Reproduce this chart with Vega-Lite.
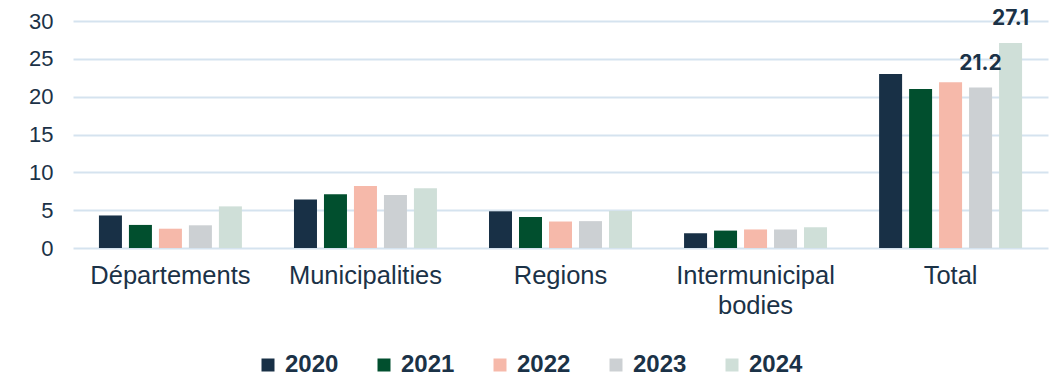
{
  "$schema": "https://vega.github.io/schema/vega-lite/v6.json",
  "autosize": {"type": "none"},
  "padding": {"left": 73, "top": 21, "right": 13, "bottom": 129},
  "width": 975,
  "height": 227,
  "background": "white",
  "config": {
    "view": {"stroke": null},
    "font": "Liberation Sans"
  },
  "data": {
    "values": [
      {"category": "Départements", "year": "2020", "value": 4.3},
      {"category": "Départements", "year": "2021", "value": 3.05},
      {"category": "Départements", "year": "2022", "value": 2.55},
      {"category": "Départements", "year": "2023", "value": 3.0},
      {"category": "Départements", "year": "2024", "value": 5.5},
      {"category": "Municipalities", "year": "2020", "value": 6.4},
      {"category": "Municipalities", "year": "2021", "value": 7.1},
      {"category": "Municipalities", "year": "2022", "value": 8.2},
      {"category": "Municipalities", "year": "2023", "value": 7.0},
      {"category": "Municipalities", "year": "2024", "value": 7.9},
      {"category": "Regions", "year": "2020", "value": 4.85},
      {"category": "Regions", "year": "2021", "value": 4.1},
      {"category": "Regions", "year": "2022", "value": 3.5},
      {"category": "Regions", "year": "2023", "value": 3.55},
      {"category": "Regions", "year": "2024", "value": 4.9},
      {"category": "Intermunicipal bodies", "year": "2020", "value": 1.95},
      {"category": "Intermunicipal bodies", "year": "2021", "value": 2.3},
      {"category": "Intermunicipal bodies", "year": "2022", "value": 2.45},
      {"category": "Intermunicipal bodies", "year": "2023", "value": 2.45},
      {"category": "Intermunicipal bodies", "year": "2024", "value": 2.75},
      {"category": "Total", "year": "2020", "value": 23.0},
      {"category": "Total", "year": "2021", "value": 21.0},
      {"category": "Total", "year": "2022", "value": 21.9},
      {"category": "Total", "year": "2023", "value": 21.2, "label": "21.2"},
      {"category": "Total", "year": "2024", "value": 27.1, "label": "27.1"}
    ]
  },
  "encoding": {
    "x": {
      "field": "category",
      "type": "nominal",
      "sort": null,
      "scale": {"paddingInner": 0.267, "paddingOuter": 0.133},
      "axis": {
        "title": null,
        "domain": false,
        "ticks": false,
        "labelAngle": 0,
        "labelFontSize": 25.5,
        "labelColor": "#1b3247",
        "labelPadding": 15,
        "labelLineHeight": 30,
        "labelBaseline": "top",
        "labelExpr": "datum.label == 'Intermunicipal bodies' ? ['Intermunicipal', 'bodies'] : datum.label"
      }
    },
    "xOffset": {
      "field": "year",
      "type": "nominal",
      "scale": {"paddingInner": 0.233, "paddingOuter": 0}
    },
    "y": {
      "field": "value",
      "type": "quantitative",
      "scale": {"domain": [0, 30], "nice": false},
      "axis": {
        "title": null,
        "values": [0, 5, 10, 15, 20, 25, 30],
        "domain": false,
        "ticks": false,
        "labelFontSize": 22,
        "labelColor": "#1b3247",
        "labelPadding": 20,
        "gridColor": "#d5e3ef",
        "gridWidth": 2
      }
    }
  },
  "layer": [
    {
      "mark": {"type": "bar"},
      "encoding": {
        "color": {
          "field": "year",
          "type": "nominal",
          "scale": {
            "domain": ["2020", "2021", "2022", "2023", "2024"],
            "range": ["#183046", "#014f2e", "#f6b9aa", "#ccd0d3", "#cfdfd8"]
          },
          "legend": {
            "title": null,
            "orient": "none",
            "direction": "horizontal",
            "legendX": 183,
            "legendY": 332,
            "symbolType": "square",
            "symbolSize": 169,
            "symbolStrokeWidth": 0,
            "labelFontSize": 24,
            "labelFontWeight": "bold",
            "labelColor": "#1b3247",
            "labelOffset": 5,
            "columnPadding": 33
          }
        }
      }
    },
    {
      "transform": [{"filter": "isValid(datum.label)"}],
      "mark": {
        "type": "text",
        "font": "Inter",
        "fontWeight": "bold",
        "fontSize": 21,
        "color": "#1b3247",
        "baseline": "alphabetic",
        "dy": -18
      },
      "encoding": {
        "text": {"field": "label"}
      }
    }
  ]
}
